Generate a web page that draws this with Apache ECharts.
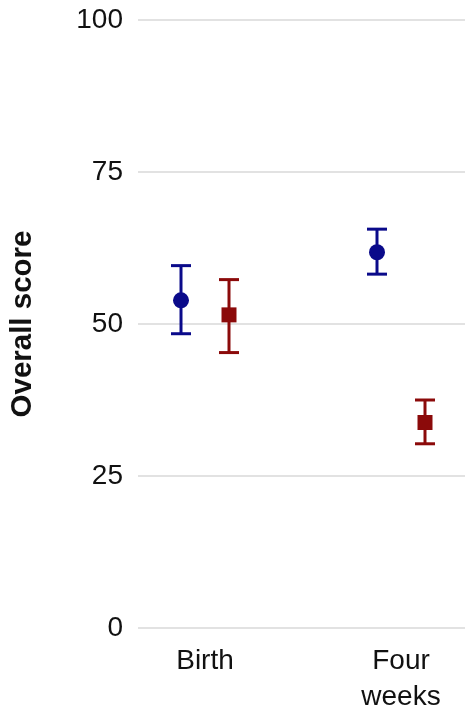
<!DOCTYPE html>
<html>
<head>
<meta charset="utf-8">
<script src="https://cdn.jsdelivr.net/npm/echarts@6/dist/echarts.min.js"></script>
<style>
html,body{margin:0;padding:0;background:#fff;}
#chart{width:473px;height:716px;}
</style>
</head>
<body>
<div id="chart"></div>
<script>
// ---- data ----
var categories = ['Birth', 'Four\nweeks'];
var blueMean = [53.9, 61.8];
var blueLow  = [48.4, 58.2];
var blueHigh = [59.6, 65.6];
var redMean  = [51.5, 33.8];
var redLow   = [45.3, 30.3];
var redHigh  = [57.3, 37.5];
var yMin = 0, yMax = 100, yStep = 25;
var yTitle = 'Overall score';

// ---- styles ----
var FONT = 'Liberation Sans, Arial, sans-serif';
var BLUE = '#0a0a8a';
var RED = '#8b0a0a';
var DODGE = 24;

function errData(lo, hi) {
  return categories.map(function (c, i) { return [i, lo[i], hi[i]]; });
}
function meanData(m) {
  return categories.map(function (c, i) { return [i, m[i]]; });
}
function errRender(color, offset) {
  return function (params, api) {
    var lo = api.coord([api.value(0), api.value(1)]);
    var hi = api.coord([api.value(0), api.value(2)]);
    var x = lo[0] + offset;
    var hw = 10;
    var st = { stroke: color, lineWidth: 3, fill: null };
    return {
      type: 'group',
      children: [
        { type: 'line', shape: { x1: x, y1: hi[1], x2: x, y2: lo[1] }, style: st },
        { type: 'line', shape: { x1: x - hw, y1: hi[1], x2: x + hw, y2: hi[1] }, style: st },
        { type: 'line', shape: { x1: x - hw, y1: lo[1], x2: x + hw, y2: lo[1] }, style: st }
      ]
    };
  };
}

var chart = echarts.init(document.getElementById('chart'), null, { renderer: 'canvas' });
chart.setOption({
  animation: false,
  backgroundColor: '#ffffff',
  textStyle: { fontFamily: FONT },
  grid: [
    { left: 138, right: 8, top: 20, bottom: 88 },
    { left: 205, width: 196, top: 20, bottom: 88 }
  ],
  xAxis: [
    { gridIndex: 0, type: 'value', show: false, min: 0, max: 1 },
    {
      gridIndex: 1, type: 'category', data: categories, boundaryGap: false,
      axisLine: { show: false }, axisTick: { show: false },
      axisLabel: { fontSize: 28, lineHeight: 36, color: '#111', margin: 15, fontFamily: FONT, interval: 0 }
    }
  ],
  yAxis: [
    {
      gridIndex: 0, type: 'value', min: yMin, max: yMax, interval: yStep,
      axisLine: { show: false }, axisTick: { show: false },
      splitLine: { show: true, lineStyle: { color: '#d9d9d9', width: 1.5 } },
      axisLabel: { fontSize: 28, color: '#111', margin: 15, fontFamily: FONT },
      name: yTitle, nameLocation: 'middle', nameGap: 100,
      nameTextStyle: { fontSize: 29.5, fontWeight: 'bold', color: '#111', fontFamily: FONT }
    },
    { gridIndex: 1, type: 'value', min: yMin, max: yMax, interval: yStep, show: false, splitLine: { show: false } }
  ],
  series: [
    { type: 'custom', xAxisIndex: 1, yAxisIndex: 1, renderItem: errRender(BLUE, -DODGE), data: errData(blueLow, blueHigh), z: 2, clip: false },
    { type: 'custom', xAxisIndex: 1, yAxisIndex: 1, renderItem: errRender(RED, DODGE), data: errData(redLow, redHigh), z: 2, clip: false },
    { type: 'scatter', xAxisIndex: 1, yAxisIndex: 1, symbol: 'circle', symbolSize: 16, symbolOffset: [-DODGE, 0], itemStyle: { color: BLUE, opacity: 1 }, data: meanData(blueMean), z: 3, clip: false },
    { type: 'scatter', xAxisIndex: 1, yAxisIndex: 1, symbol: 'rect', symbolSize: 15, symbolOffset: [DODGE, 0], itemStyle: { color: RED, opacity: 1 }, data: meanData(redMean), z: 3, clip: false }
  ]
});
</script>
</body>
</html>
